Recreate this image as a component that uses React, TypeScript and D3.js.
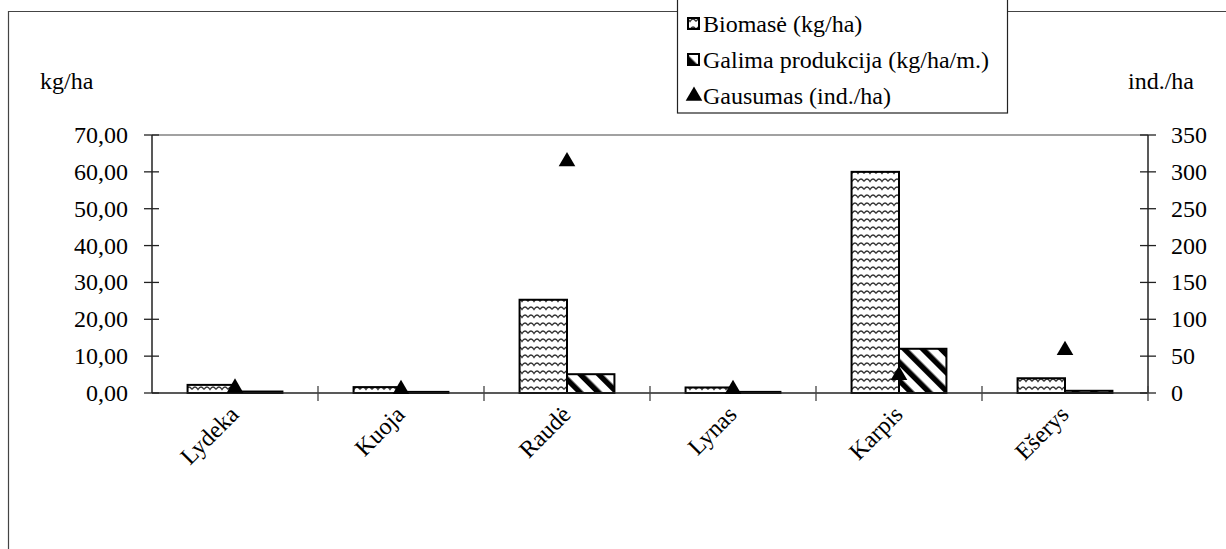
import React from "react";
import * as d3 from "d3";

const categories = ["Lydeka", "Kuoja", "Raudė", "Lynas", "Karpis", "Ešerys"];
const biomass = [2.2, 1.6, 25.3, 1.5, 60.0, 4.0];
const production = [0.4, 0.3, 5.1, 0.3, 12.0, 0.6];
const abundance = [7, 5, 314, 5, 24, 58];
const leftTicks = [0, 10, 20, 30, 40, 50, 60, 70];
const rightTicks = [0, 50, 100, 150, 200, 250, 300, 350];
const legendLabels = ["Biomasė (kg/ha)", "Galima produkcija (kg/ha/m.)", "Gausumas (ind./ha)"];

const W = 1226;
const H = 549;
const FONT = '"Liberation Serif", Tinos, "Noto Serif", "Nimbus Roman", FreeSerif, Times, "DejaVu Serif", serif';
const FS = 24;

export default function App() {
  const left = 152, right = 1148, top = 135, bottom = 393;
  const x = d3.scaleBand<string>().domain(categories).range([left, right]).paddingInner(0).paddingOuter(0);
  const yL = d3.scaleLinear().domain([0, 70]).range([bottom, top]);
  const yR = d3.scaleLinear().domain([0, 350]).range([bottom, top]);
  const bw = x.bandwidth() / 3.5;
  const fmt = (v: number) => v.toFixed(2).replace(".", ",");
  const tri = d3.symbol().type(d3.symbolTriangle).size(120);
  const ts = { fontFamily: FONT, fontSize: FS } as React.CSSProperties;

  return (
    <svg width={W} height={H} style={{ position: "absolute", left: 0, top: 0, fontFamily: FONT }}>
      <defs>
        <pattern id="wave" patternUnits="userSpaceOnUse" width="12" height="8">
          <rect width="12" height="8" fill="#fff" />
          <path d="M0,5.5 Q3,0.5 6,5.5 Q9,0.5 12,5.5" fill="none" stroke="#333" strokeWidth="1.4" />
        </pattern>
        <pattern id="diag" patternUnits="userSpaceOnUse" width="13" height="13" patternTransform="rotate(-45)">
          <rect width="13" height="13" fill="#fff" />
          <rect x="0" y="0" width="5.5" height="13" fill="#000" />
        </pattern>
      </defs>
      <rect x={0} y={0} width={W} height={H} fill="#fff" />
      <path d={`M8.5,${H} L8.5,11.5 L${W},11.5`} fill="none" stroke="#444" strokeWidth={1.2} />

      <line x1={left} x2={right} y1={top} y2={top} stroke="#444" strokeWidth={1.2} />
      <line x1={left} x2={left} y1={top} y2={bottom} stroke="#222" strokeWidth={1.5} />
      <line x1={right} x2={right} y1={top} y2={bottom} stroke="#222" strokeWidth={1.5} />

      {leftTicks.map((t) => (
        <g key={"l" + t}>
          <line x1={144} x2={159} y1={yL(t)} y2={yL(t)} stroke="#222" strokeWidth={1.3} />
          <text x={128} y={yL(t)} textAnchor="end" dominantBaseline="central" style={ts}>{fmt(t)}</text>
        </g>
      ))}
      {rightTicks.map((t) => (
        <g key={"r" + t}>
          <line x1={1140} x2={1156} y1={yR(t)} y2={yR(t)} stroke="#222" strokeWidth={1.3} />
          <text x={1171} y={yR(t)} textAnchor="start" dominantBaseline="central" style={ts}>{t}</text>
        </g>
      ))}

      <text x={40} y={89} style={ts}>kg/ha</text>
      <text x={1128} y={89} style={ts}>ind./ha</text>

      {categories.map((c, i) => {
        const cx = (x(c) as number) + x.bandwidth() / 2;
        return (
          <g key={"b" + c}>
            <rect x={cx - bw} y={yL(biomass[i])} width={bw} height={bottom - yL(biomass[i])} fill="url(#wave)" stroke="#000" strokeWidth={2} />
            <rect x={cx} y={yL(production[i])} width={bw} height={bottom - yL(production[i])} fill="url(#diag)" stroke="#000" strokeWidth={2} />
          </g>
        );
      })}

      <line x1={left} x2={right} y1={bottom} y2={bottom} stroke="#222" strokeWidth={1.5} />
      {categories.map((c) => (
        <line key={"ct" + c} x1={(x(c) as number) + x.bandwidth()} x2={(x(c) as number) + x.bandwidth()} y1={386} y2={401} stroke="#444" strokeWidth={1.3} />
      ))}

      {categories.map((c, i) => {
        const cx = (x(c) as number) + x.bandwidth() / 2;
        return <path key={"m" + c} d={tri() as string} transform={`translate(${cx},${yR(abundance[i])})`} fill="#000" />;
      })}

      {categories.map((c) => {
        const ax = (x(c) as number) + x.bandwidth() / 2 + 5;
        const ay = 416;
        return (
          <text key={"lab" + c} x={ax} y={ay} textAnchor="end" transform={`rotate(-45, ${ax}, ${ay})`} style={ts}>{c}</text>
        );
      })}

      <rect x={677.5} y={-2} width={330} height={115} fill="#fff" stroke="#222" strokeWidth={1.2} />
      <rect x={688} y={18} width={11} height={11} fill="url(#wave)" stroke="#000" strokeWidth={2} />
      <rect x={688} y={54} width={11} height={11} fill="url(#diag)" stroke="#000" strokeWidth={2} />
      <path d={tri() as string} transform="translate(694,96)" fill="#000" />
      {legendLabels.map((l, i) => (
        <text key={l} x={703} y={24 + i * 36} dominantBaseline="central" style={ts}>{l}</text>
      ))}
    </svg>
  );
}
